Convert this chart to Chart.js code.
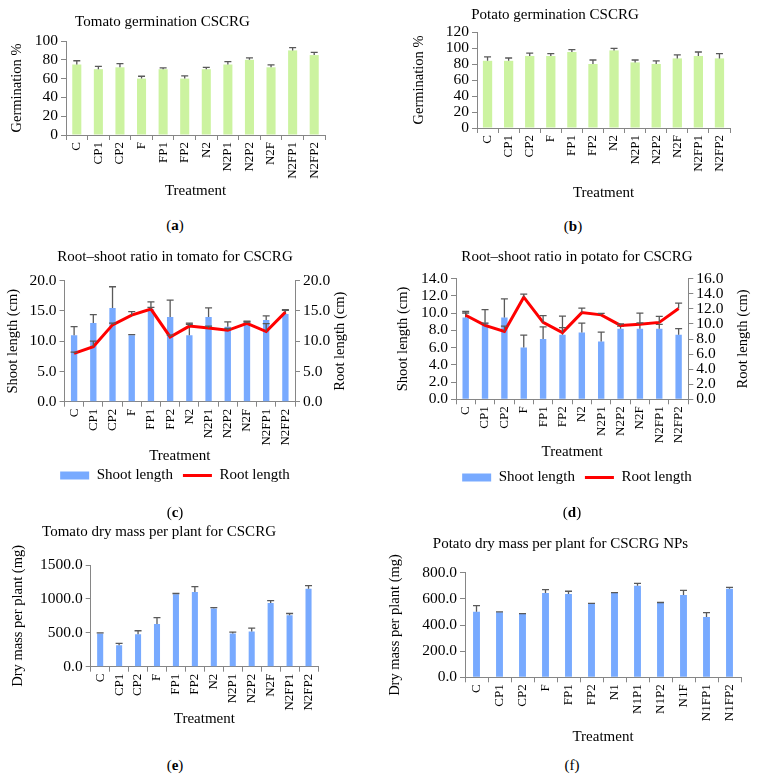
<!DOCTYPE html>
<html>
<head>
<meta charset="utf-8">
<script src="https://cdn.jsdelivr.net/npm/chart.js@4.4.1/dist/chart.umd.min.js"></script>
<style>
  html, body { margin: 0; padding: 0; background: #fff; overflow: hidden; width: 759px; height: 778px; }
  canvas { position: absolute; }
  .tag { position: absolute; font: 15px 'Liberation Serif', 'Times New Roman', serif; color: #000; transform: translate(-50%, -50%); }
</style>
</head>
<body>
<canvas id="chart-a" width="360" height="205" style="left:0;top:0"></canvas>
<canvas id="chart-b" width="444" height="205" style="left:380px;top:0"></canvas>
<canvas id="chart-c" width="350" height="256" style="left:0;top:237px"></canvas>
<canvas id="chart-d" width="394" height="258" style="left:380px;top:237px"></canvas>
<canvas id="chart-e" width="433" height="223" style="left:0;top:505px"></canvas>
<canvas id="chart-f" width="446" height="231" style="left:380px;top:515px"></canvas>

<div class="tag" style="left:175px;top:225px">(<b>a</b>)</div>
<div class="tag" style="left:573px;top:226px">(<b>b</b>)</div>
<div class="tag" style="left:175px;top:512px">(<b>c</b>)</div>
<div class="tag" style="left:572px;top:512px">(<b>d</b>)</div>
<div class="tag" style="left:175px;top:765px">(<b>e</b>)</div>
<div class="tag" style="left:572px;top:765px">(f)</div>

<script>
// ── Data ──
const treatments = ['C', 'CP1', 'CP2', 'F', 'FP1', 'FP2', 'N2', 'N2P1', 'N2P2', 'N2F', 'N2FP1', 'N2FP2'];
const treatmentsN1 = ['C', 'CP1', 'CP2', 'F', 'FP1', 'FP2', 'N1', 'N1P1', 'N1P2', 'N1F', 'N1FP1', 'N1FP2'];

const tomatoGerm = [75, 70, 72, 60, 70, 60, 70, 75, 80, 72, 90, 85];
const tomatoGermErr = [4, 3, 4, 2.5, 1.5, 3, 2, 3, 2, 2.5, 3, 3];

const potatoGerm = [84, 84, 90, 90, 95, 80, 97, 82, 80, 87, 90, 87];
const potatoGermErr = [5, 3.5, 3.5, 3, 3, 5, 2.5, 3, 4, 4.5, 5, 6];

const tomatoShoot = [11, 13, 15.5, 11, 15.3, 14, 11, 14, 12.4, 13.2, 13.5, 14.5];
const tomatoShootErr = [1.4, 1.4, 3.5, 0.1, 1.2, 2.8, 2, 1.5, 0.8, 0.1, 0.7, 0.7];
const tomatoRoot = [8, 9.1, 12.7, 14.3, 15.3, 10.7, 12.5, 12.2, 11.8, 12.95, 11.6, 14.8];
const tomatoRootErr = [0.2, 0.9, 0.3, 0.6, 0.3, 0.3, 0.3, 0.3, 0.3, 0.2, 1.3, 0.3];

const potatoShoot = [9.5, 8.9, 9.5, 6.0, 7.0, 7.5, 7.75, 6.7, 8.2, 8.2, 8.2, 7.5];
const potatoShootErr = [0.7, 1.5, 2.15, 1.45, 1.4, 2.15, 1.1, 1.1, 0.3, 1.8, 0.5, 0.7];
const potatoRoot = [11.15, 9.8, 9.0, 13.55, 10.2, 8.85, 11.5, 11.2, 9.8, 9.95, 10.2, 12.05];
const potatoRootErr = [0.3, 0.3, 0.7, 0.4, 0.9, 0.65, 0.6, 0.2, 0.2, 0.2, 0.8, 0.7];

const tomatoMass = [490, 315, 480, 630, 1070, 1100, 860, 490, 520, 940, 760, 1150];
const tomatoMassErr = [10, 30, 50, 95, 10, 80, 10, 20, 50, 35, 25, 45];

const potatoMass = [502, 497, 484, 645, 638, 561, 645, 701, 568, 630, 461, 678];
const potatoMassErr = [46, 3, 3, 25, 20, 4, 3, 18, 4, 35, 33, 10];

// ── Style ──
const FONT = "'Liberation Serif', 'Times New Roman', serif";
const GREEN = '#ccf3a0';
const BLUE = '#78aaff';
const RED = '#ff0000';
const AXIS_GRAY = '#868686';
const ERR_GRAY = '#595959';

Chart.defaults.font.family = FONT;
Chart.defaults.color = '#000';

// error bars (upper only, like the Excel originals)
const errorBars = {
  id: 'errorBars',
  afterDatasetDraw(chart, args) {
    const ds = chart.data.datasets[args.index];
    if (!ds.errors) return;
    const meta = args.meta;
    const scale = chart.scales[meta.yAxisID];
    const ctx = chart.ctx;
    ctx.save();
    ctx.strokeStyle = ERR_GRAY;
    ctx.lineWidth = 1.3;
    meta.data.forEach((el, i) => {
      const base = scale.getPixelForValue(ds.data[i]);
      const top = scale.getPixelForValue(ds.data[i] + ds.errors[i]);
      ctx.beginPath();
      ctx.moveTo(el.x, base);
      ctx.lineTo(el.x, top);
      ctx.moveTo(el.x - 3.5, top);
      ctx.lineTo(el.x + 3.5, top);
      ctx.stroke();
    });
    ctx.restore();
  }
};

// right axis title, rotated the same way as the left one
const rightTitle = {
  id: 'rightTitle',
  afterDraw(chart, args, opts) {
    if (!opts || !opts.text) return;
    const s = chart.scales.y1;
    const ctx = chart.ctx;
    ctx.save();
    ctx.translate(s.right - opts.offset, (s.top + s.bottom) / 2);
    ctx.rotate(-Math.PI / 2);
    ctx.font = `14.5px ${FONT}`;
    ctx.fillStyle = '#000';
    ctx.textAlign = 'center';
    ctx.textBaseline = 'middle';
    ctx.fillText(opts.text, 0, 0);
    ctx.restore();
  }
};

Chart.register(errorBars, rightTitle);

// ── Axes ──
function valueAxis({ max, step, width, title, pad, digits, position = 'left' }) {
  return {
    position,
    min: 0,
    max,
    afterFit: s => { s.width = width; },
    border: { color: AXIS_GRAY, width: 1 },
    grid: { drawOnChartArea: false, tickLength: 5, color: AXIS_GRAY },
    ticks: {
      stepSize: step,
      autoSkip: false,
      padding: 3,
      color: '#000',
      font: { family: FONT, size: 15.5 },
      callback: v => v.toFixed(digits)
    },
    title: title
      ? { display: true, text: title, color: '#000', font: { family: FONT, size: 14.5 }, padding: { top: pad, bottom: 0 } }
      : { display: false }
  };
}

function treatmentAxis(height, pad) {
  return {
    afterFit: s => { s.height = height; },
    border: { color: AXIS_GRAY, width: 1 },
    grid: { offset: true, drawOnChartArea: false, tickLength: 5, color: AXIS_GRAY },
    ticks: {
      autoSkip: false,
      minRotation: 90,
      maxRotation: 90,
      padding: 2,
      color: '#000',
      font: { family: FONT, size: 13 }
    },
    title: {
      display: true,
      text: 'Treatment',
      color: '#000',
      font: { family: FONT, size: 15 },
      padding: { top: 0, bottom: pad }
    }
  };
}

function chartTitle(text, top, bottom) {
  return {
    display: true,
    text,
    color: '#000',
    font: { family: FONT, size: 15, weight: 'normal' },
    padding: { top, bottom }
  };
}

// ── Simple bar panels ──
function barPanel(id, { labels, values, errors, color, barPct, title, titlePad, layout, x, y }) {
  new Chart(document.getElementById(id), {
    type: 'bar',
    data: {
      labels,
      datasets: [{
        data: values,
        errors,
        backgroundColor: color,
        barPercentage: barPct,
        categoryPercentage: 1
      }]
    },
    options: {
      responsive: false,
      animation: false,
      layout: { padding: layout },
      plugins: {
        legend: { display: false },
        tooltip: { enabled: false },
        title: chartTitle(title, titlePad[0], titlePad[1])
      },
      scales: { x, y }
    }
  });
}

// ── Shoot / root panels ──
function comboPanel(id, { shoot, shootErr, root, rootErr, title, titlePad, layout, x, y, y1, rightOffset }) {
  new Chart(document.getElementById(id), {
    type: 'bar',
    data: {
      labels: treatments,
      datasets: [
        {
          type: 'line',
          label: 'Root length',
          data: root,
          errors: rootErr,
          yAxisID: 'y1',
          borderColor: RED,
          borderWidth: 3,
          pointRadius: 0,
          tension: 0,
          order: 0
        },
        {
          label: 'Shoot length',
          data: shoot,
          errors: shootErr,
          yAxisID: 'y',
          backgroundColor: BLUE,
          barPercentage: 0.33,
          categoryPercentage: 1,
          order: 1
        }
      ]
    },
    options: {
      responsive: false,
      animation: false,
      layout: { padding: layout },
      plugins: {
        tooltip: { enabled: false },
        title: chartTitle(title, titlePad[0], titlePad[1]),
        rightTitle: { text: 'Root length (cm)', offset: rightOffset },
        legend: {
          position: 'bottom',
          labels: {
            usePointStyle: true,
            pointStyleWidth: 29,
            boxHeight: 8,
            padding: 10,
            color: '#000',
            font: { family: FONT, size: 15 },
            generateLabels: () => [
              { text: 'Shoot length', fillStyle: BLUE, strokeStyle: BLUE, lineWidth: 0, pointStyle: 'rect', datasetIndex: 1, hidden: false },
              { text: 'Root length', fillStyle: RED, strokeStyle: RED, lineWidth: 3, pointStyle: 'line', datasetIndex: 0, hidden: false }
            ]
          }
        }
      },
      scales: { x, y, y1 }
    }
  });
}

// ── Build ──
barPanel('chart-a', {
  labels: treatments, values: tomatoGerm, errors: tomatoGermErr, color: GREEN, barPct: 0.42,
  title: 'Tomato germination CSCRG', titlePad: [13, 10],
  layout: { left: 0, right: 35, top: 0, bottom: 5 },
  x: treatmentAxis(65, 0),
  y: valueAxis({ max: 100, step: 20, width: 66, title: 'Germination %', pad: 8.3, digits: 0 })
});

barPanel('chart-b', {
  labels: treatments, values: potatoGerm, errors: potatoGermErr, color: GREEN, barPct: 0.44,
  title: 'Potato germination CSCRG', titlePad: [6, 8],
  layout: { left: 0, right: 94, top: 0, bottom: 3 },
  x: treatmentAxis(74, 0),
  y: valueAxis({ max: 120, step: 20, width: 97, title: 'Germination %', pad: 30.3, digits: 0 })
});

comboPanel('chart-c', {
  shoot: tomatoShoot, shootErr: tomatoShootErr, root: tomatoRoot, rootErr: tomatoRootErr,
  title: 'Root\u2013shoot ratio in tomato for CSCRG', titlePad: [11.3, 14.4],
  layout: { left: 0, right: 0, top: 0, bottom: 0 },
  x: treatmentAxis(56.3, -6.7),
  y: valueAxis({ max: 20, step: 5, width: 64.5, title: 'Shoot length (cm)', pad: 4.3, digits: 1 }),
  y1: valueAxis({ max: 20, step: 5, width: 55, title: null, digits: 1, position: 'right' }),
  rightOffset: 10
});

comboPanel('chart-d', {
  shoot: potatoShoot, shootErr: potatoShootErr, root: potatoRoot, rootErr: potatoRootErr,
  title: 'Root\u2013shoot ratio in potato for CSCRG', titlePad: [10.7, 13],
  layout: { left: 0, right: 0, top: 0, bottom: 0 },
  x: treatmentAxis(60.7, -1.3),
  y: valueAxis({ max: 14, step: 2, width: 76, title: 'Shoot length (cm)', pad: 14.3, digits: 1 }),
  y1: valueAxis({ max: 16, step: 2, width: 85.7, title: null, digits: 1, position: 'right' }),
  rightOffset: 30.4
});

barPanel('chart-e', {
  labels: treatments, values: tomatoMass, errors: tomatoMassErr, color: BLUE, barPct: 0.32,
  title: 'Tomato dry mass per plant for CSCRG', titlePad: [17.7, 24.3],
  layout: { left: 0, right: 115, top: 0, bottom: 0 },
  x: treatmentAxis(61.3, 0),
  y: valueAxis({ max: 1500, step: 500, width: 90.7, title: 'Dry mass per plant (mg)', pad: 9.3, digits: 1 })
});

barPanel('chart-f', {
  labels: treatmentsN1, values: potatoMass, errors: potatoMassErr, color: BLUE, barPct: 0.3,
  title: 'Potato dry mass per plant for CSCRG NPs', titlePad: [20, 19.7],
  layout: { left: 0, right: 85, top: 0, bottom: 0 },
  x: treatmentAxis(68.7, 0),
  y: valueAxis({ max: 800, step: 200, width: 85, title: 'Dry mass per plant (mg)', pad: 6.3, digits: 1 })
});
</script>
</body>
</html>
